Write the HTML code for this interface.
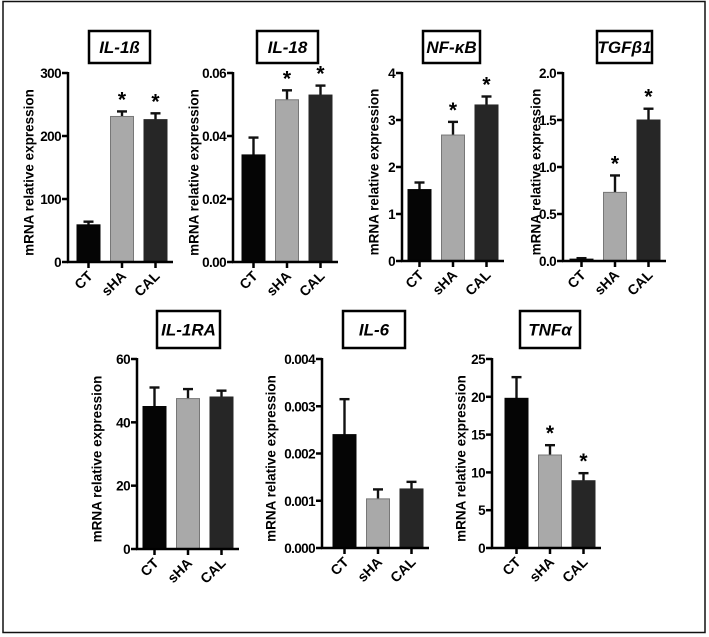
<!DOCTYPE html>
<html><head><meta charset="utf-8"><style>
html,body{margin:0;padding:0;background:#fff;}
svg{display:block;font-family:"Liberation Sans",Arial,sans-serif;}
</style></head><body>
<svg id="fig" width="709" height="637" viewBox="0 0 709 637">
<rect x="3" y="1.5" width="702" height="631" fill="none" stroke="#111" stroke-width="1.5"/>
</svg>
<script>
const categories = ["CT","sHA","CAL"];
const il1bValues = [59, 231, 226];
const il1bErrors = [5, 8, 10];
const il18Values = [0.034, 0.0515, 0.053];
const il18Errors = [0.0055, 0.003, 0.003];
const nfkbValues = [1.52, 2.68, 3.32];
const nfkbErrors = [0.15, 0.28, 0.18];
const tgfValues = [0.02, 0.73, 1.50];
const tgfErrors = [0.01, 0.18, 0.12];
const il1raValues = [45, 47.5, 48];
const il1raErrors = [6, 3, 2];
const il6Values = [0.0024, 0.00104, 0.00125];
const il6Errors = [0.00075, 0.0002, 0.00015];
const tnfValues = [19.8, 12.3, 8.9];
const tnfErrors = [2.8, 1.3, 1.0];
const il1bTicks = ["0","100","200","300"];
const il18Ticks = ["0.00","0.02","0.04","0.06"];
const nfkbTicks = ["0","1","2","3","4"];
const tgfTicks = ["0.0","0.5","1.0","1.5","2.0"];
const il1raTicks = ["0","20","40","60"];
const il6Ticks = ["0.000","0.001","0.002","0.003","0.004"];
const tnfTicks = ["0","5","10","15","20","25"];
const il1bStars = [false,true,true];
const il18Stars = [false,true,true];
const nfkbStars = [false,true,true];
const tgfStars = [false,true,true];
const il1raStars = [false,false,false];
const il6Stars = [false,false,false];
const tnfStars = [false,true,true];

const NS="http://www.w3.org/2000/svg";
const svg=document.getElementById('fig');
function mk(tag,attrs,parent){const e=document.createElementNS(NS,tag);for(const k in attrs)e.setAttribute(k,attrs[k]);(parent||svg).appendChild(e);return e;}
const fills=["#050505","#a9a9a9","#262626"];

function panel(key,title,ax,top,y0,bx,box,lx,ticks,vals,errs,stars){
  const g=mk('g',{});
  
  
  const tmax=parseFloat(ticks[ticks.length-1]);
  const y=v=>y0-(v/tmax)*(y0-top);
  const step=33.5,bw=23;
  const xb=i=>bx+i*step;
  const tb=mk('rect',{x:box[0],y:box[1],width:box[2]-box[0],height:box[3]-box[1],fill:'#fff',stroke:'#000','stroke-width':2.5},g);
  
  
  const tt=mk('text',{x:(box[0]+box[2])/2,y:(box[1]+box[3])/2+6,'text-anchor':'middle','font-size':17,'font-weight':'bold','font-style':'italic'},g);
  tt.textContent=title;
  
  
  vals.forEach((v,i)=>{
    const x=xb(i);
    const e=errs[i];
    const el=mk('line',{x1:x+bw/2,x2:x+bw/2,y1:y(v),y2:y(v+e),stroke:'#111','stroke-width':2.4},g);
    
    
    const ec=mk('line',{x1:x+bw/2-5,x2:x+bw/2+5,y1:y(v+e),y2:y(v+e),stroke:'#111','stroke-width':2.4},g);
    
    
    const r=mk('rect',{x:x,y:y(v),width:bw,height:y0-y(v),fill:fills[i],stroke:i==1?'#777':fills[i],'stroke-width':1},g);
    
    
    if(stars[i]){
      const s=mk('text',{x:x+bw/2,y:y(v+e)-5,'text-anchor':'middle','font-size':21,'font-weight':'bold'},g);
      s.textContent='*';
      
      
    }
    const tx=x+bw/2;
    const tk=mk('line',{x1:tx,x2:tx,y1:y0,y2:y0+6,stroke:'#000','stroke-width':2.5},g);
    
    
    const lb=mk('text',{x:tx+5,y:y0+15,'text-anchor':'end','font-size':14,'font-weight':'bold',transform:`rotate(-45 ${tx+5} ${y0+15})`},g);
    lb.textContent=categories[i];
    
    
  });
  const xe=xb(2)+bw+6;
  const xa=mk('line',{x1:ax-1,x2:xe,y1:y0,y2:y0,stroke:'#000','stroke-width':2.5},g);
  
  
  const ya=mk('line',{x1:ax,x2:ax,y1:top-1,y2:y0+1,stroke:'#000','stroke-width':2.5},g);
  
  
  ticks.forEach(t=>{
    const yy=y(parseFloat(t));
    const tl=mk('line',{x1:ax-6,x2:ax,y1:yy,y2:yy,stroke:'#000','stroke-width':2.5},g);
    
    
    const tx=mk('text',{x:ax-7,y:yy+5,'text-anchor':'end','font-size':13.5,'font-weight':'bold','letter-spacing':'-0.6'},g);
    tx.textContent=t;
    
    
  });
  const yc=(top+y0)/2+5;
  const yl=mk('text',{x:lx,y:yc,'text-anchor':'middle','font-size':13.5,'font-weight':'bold','dominant-baseline':'middle',transform:`rotate(-90 ${lx} ${yc})`},g);
  yl.textContent='mRNA relative expression';
  
  
}
panel('il-1b','IL-1ß',68,73,262,77,[89,31,150,63],30,il1bTicks,il1bValues,il1bErrors,il1bStars);
panel('il-18','IL-18',233,73,262,242,[257,31,318,63],195,il18Ticks,il18Values,il18Errors,il18Stars);
panel('nf-kb','NF-κB',402,73,261,408,[423,31,480,63],375,nfkbTicks,nfkbValues,nfkbErrors,nfkbStars);
panel('tgfb1','TGFβ1',563,73,261,570,[597,31,652,63],537,tgfTicks,tgfValues,tgfErrors,tgfStars);
panel('il-1ra','IL-1RA',137,359,549,143,[157,311,220,348],98,il1raTicks,il1raValues,il1raErrors,il1raStars);
panel('il-6','IL-6',322,359,548,333,[343,311,405,348],272,il6Ticks,il6Values,il6Errors,il6Stars);
panel('tnfa','TNFα',492,359,548,505,[520,311,580,348],462,tnfTicks,tnfValues,tnfErrors,tnfStars);
</script>
</body></html>
